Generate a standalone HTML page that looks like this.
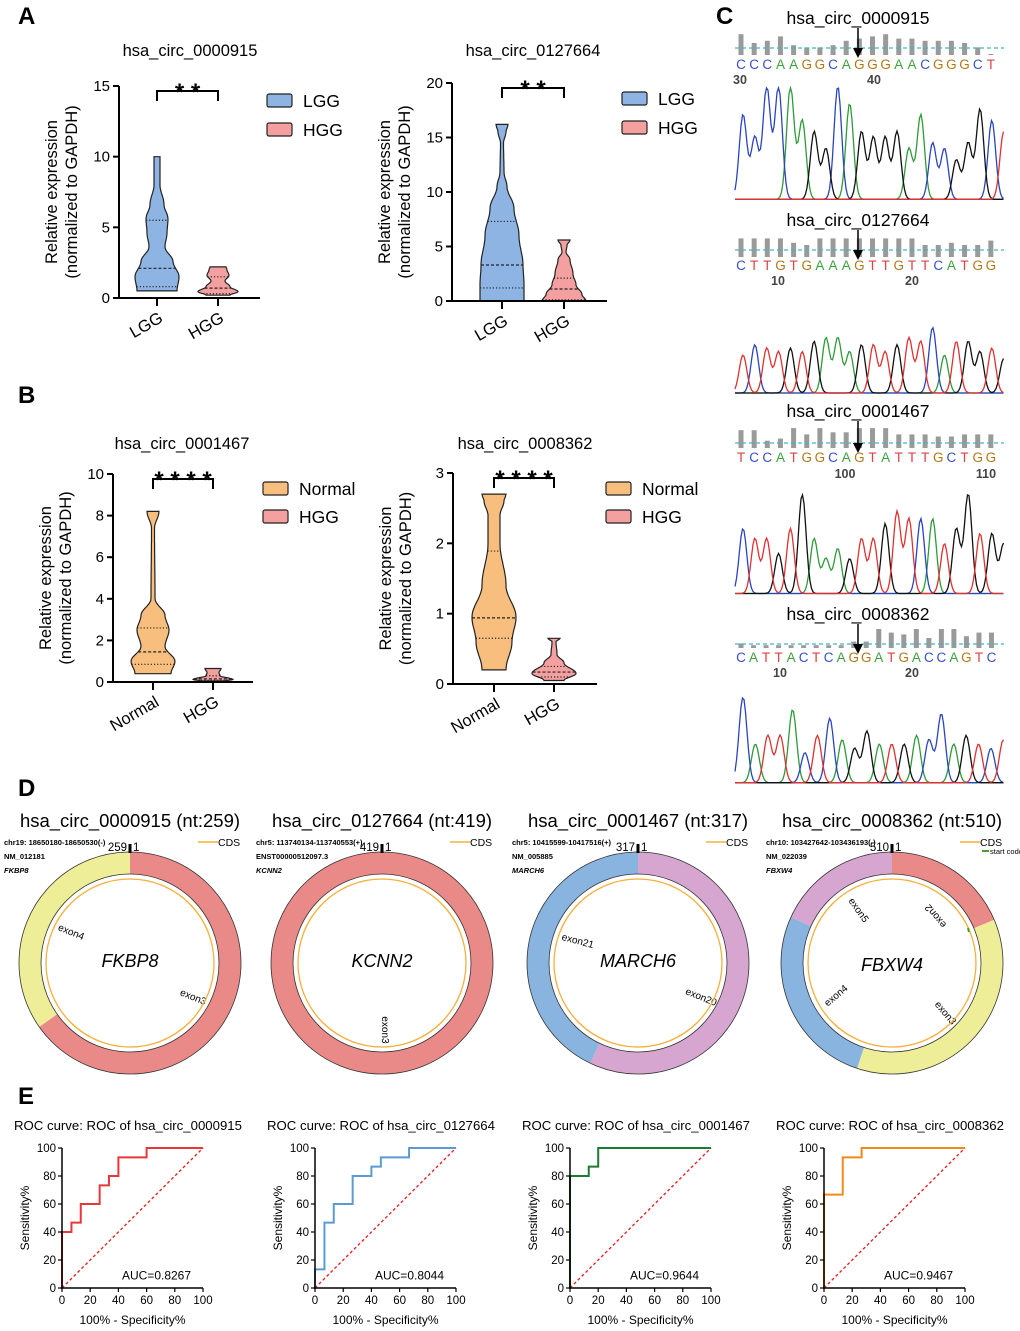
<!DOCTYPE html>
<html><head><meta charset="utf-8"><style>
html,body{margin:0;padding:0;background:#fff}
svg{display:block}
text{font-family:"Liberation Sans",Arial,sans-serif}
</style></head><body>
<svg id="fig" xmlns="http://www.w3.org/2000/svg" width="1020" height="1331" viewBox="0 0 1020 1331">
<g font-weight="bold" font-size="24" fill="#000">
<text x="18" y="24">A</text>
<text x="18" y="403">B</text>
<text x="716" y="24">C</text>
<text x="18" y="796">D</text>
<text x="18" y="1104">E</text>
</g>
<g id="layer"></g>
</svg>
<script>
// ---------- DATA: violins ----------
const violinTitles = ["hsa_circ_0000915","hsa_circ_0127664","hsa_circ_0001467","hsa_circ_0008362"];
const violinCats = [["LGG","HGG"],["LGG","HGG"],["Normal","HGG"],["Normal","HGG"]];
const violinStars = ["**","**","****","****"];
const violinTicks = [[0,5,10,15],[0,5,10,15,20],[0,2,4,6,8,10],[0,1,2,3]];
const vA1a = [[0.5,20],[1.5,22],[2.6,16],[3.6,8],[4.6,10],[5.6,11],[6.6,7],[8,3],[9.5,3],[10,3]];
const vA1b = [[0.2,12],[0.45,20],[0.8,12],[1.2,7],[1.6,11],[2.0,9],[2.2,8]];
const vA2a = [[0,22],[1.5,22],[3.3,21],[6,17],[8.5,12],[10.5,5],[11.8,2],[14.5,1.5],[15.5,4],[16.2,6]];
const vA2b = [[0,22],[0.6,18],[1.5,12],[2.5,9],[3.8,6],[4.5,2],[5.1,3],[5.6,6]];
const vB1a = [[0.4,18],[1.0,22],[1.7,12],[2.5,16],[3.2,12],[4.0,2],[7.4,1.5],[8.2,6]];
const vB1b = [[0.05,12],[0.12,20],[0.3,7],[0.45,6],[0.65,8]];
const vB2a = [[0.2,12],[0.6,18],[0.95,22],[1.4,12],[2.0,6],[2.4,6],[2.6,10],[2.7,12]];
const vB2b = [[0.05,10],[0.15,22],[0.3,10],[0.42,3],[0.6,2],[0.65,6]];
const violinData = [[vA1a,vA1b],[vA2a,vA2b],[vB1a,vB1b],[vB2a,vB2b]];
const violinQuart = [[[0.8,2.1,5.5],[0.3,0.7,1.5]],[[1.2,3.3,7.3],[0.1,1.1,2.1]],[[0.85,1.45,2.6],[0.08,0.15,0.3]],[[0.65,0.94,1.89],[0.1,0.17,0.25]]];
// ---------- DATA: ROC ----------
const rocTitles = ["ROC curve: ROC of hsa_circ_0000915","ROC curve: ROC of hsa_circ_0127664","ROC curve: ROC of hsa_circ_0001467","ROC curve: ROC of hsa_circ_0008362"];
const rocAUC = ["AUC=0.8267","AUC=0.8044","AUC=0.9644","AUC=0.9467"];
const rocFpr1 = [0,0,6.7,6.7,13.3,13.3,26.7,26.7,33.3,33.3,40,40,60,60,100];
const rocTpr1 = [0,40,40,46.7,46.7,60,60,73.3,73.3,80,80,93.3,93.3,100,100];
const rocFpr2 = [0,0,6.7,6.7,13.3,13.3,26.7,26.7,40,40,46.7,46.7,66.7,66.7,100];
const rocTpr2 = [0,13.3,13.3,46.7,46.7,60,60,80,80,86.7,86.7,93.3,93.3,100,100];
const rocFpr3 = [0,0,13.3,13.3,20,20,100];
const rocTpr3 = [0,80,80,86.7,86.7,100,100];
const rocFpr4 = [0,0,13.3,13.3,26.7,26.7,100];
const rocTpr4 = [0,66.7,66.7,93.3,93.3,100,100];
const rocTicks = [0,20,40,60,80,100];
// ---------- DATA: circRNA ----------
const circTitles = ["hsa_circ_0000915 (nt:259)","hsa_circ_0127664  (nt:419)","hsa_circ_0001467 (nt:317)","hsa_circ_0008362  (nt:510)"];
const circInfo = [["chr19: 18650180-18650530(-)","NM_012181","FKBP8"],["chr5: 113740134-113740553(+)","ENST00000512097.3","KCNN2"],["chr5: 10415599-10417516(+)","NM_005885","MARCH6"],["chr10: 103427642-103436193(-)","NM_022039","FBXW4"]];
const circLen = [259,419,317,510];
const circExonNames = [["exon3","exon4"],["exon3"],["exon20","exon21"],["exon2","exon3","exon4","exon5"]];
const circExonLen = [[169,90],[419],[181,136],[95,186,136,93]];
// ---------- DATA: chromatograms ----------
const seqTitles = ["hsa_circ_0000915","hsa_circ_0127664","hsa_circ_0001467","hsa_circ_0008362"];
const seqLetters = ["CCCAAGGCAGGGAACGGGCT","CTTGTGAAAGTTGTTCATGG","TCCATGGCAGTATTTGCTGG","CATTACTCAGGATGACCAGTC"];
const seqNums = [["30","40"],["10","20"],["100","110"],["10","20"]];
const seqQual = [[0.9,0.5,0.6,0.8,0.4,0.3,0.3,0.4,0.6,0.7,0.8,0.9,0.7,0.7,0.6,0.6,0.6,0.5,0.3,0],[0.8,0.8,0.8,0.8,0.6,0.5,0.8,0.8,0.8,0.8,0.8,0.8,0.8,0.8,0.5,0.5,0.6,0.5,0.5,0.7],[0.8,0.8,0.3,0.4,0.9,0.6,0.9,0.7,0.7,0.9,0.9,0.9,0.6,0.6,0.6,0.5,0.5,0.6,0.6,0.6],[0.2,0.1,0.1,0.1,0.1,0.1,0.1,0.1,0.1,0.3,0.3,1,0.8,0.7,1,0.5,1,1,0.6,0.8,0.8]];
const trBases = ["CCCCAAGGCAGGGGAACCGGGCT","TCTTGTGAAAGTTGTTCATGGTG","CTTGTGAAAGTTGTTCATGGTGG","CATTACTCAGGATGACCAGTCT"];
const trHeights = [[0.75,0.55,1,1,1,0.7,0.6,0.45,1,0.85,0.6,0.55,0.55,0.6,0.45,0.75,0.5,0.45,0.35,0.5,0.8,0.7,0.6],[0.55,0.7,0.65,0.6,0.65,0.6,0.75,0.8,0.8,0.6,0.7,0.7,0.6,0.7,0.8,0.75,0.95,0.55,0.75,0.75,0.6,0.65,0.5],[0.65,0.55,0.55,0.4,0.65,1,0.55,0.35,0.45,0.35,0.55,0.55,0.7,0.82,0.75,0.75,0.75,0.5,0.65,1,0.6,0.6,0.5],[1,0.45,0.55,0.55,0.85,0.35,0.55,0.75,0.5,0.4,0.6,0.45,0.45,0.45,0.55,0.5,0.8,0.45,0.55,0.45,0.4,0.5]];

const NS="http://www.w3.org/2000/svg";
const layer=document.getElementById('layer');
function mk(tag,attrs,parent){const e=document.createElementNS(NS,tag);for(const k in attrs)e.setAttribute(k,attrs[k]);(parent||layer).appendChild(e);return e;}
function txt(s,attrs,parent){const e=mk('text',attrs,parent);e.textContent=s;return e;}

// ---------- Violin panels ----------
const vLayout=[
 {ax:119,y0:298,yTop:86,max:15,xEnd:260,cx:[157,218],title:[190,56],lx:267,ly:[94,123],colors:["#8DB4E2","#F4A0A0"]},
 {ax:452,y0:301,yTop:83,max:20,xEnd:607,cx:[502,564],title:[533,56],lx:622,ly:[92,121],colors:["#8DB4E2","#F4A0A0"]},
 {ax:113,y0:682,yTop:474,max:10,xEnd:253,cx:[153,213],title:[182,449],lx:263,ly:[482,510],colors:["#F8BE7E","#F4A0A0"]},
 {ax:453,y0:684,yTop:473,max:3,xEnd:597,cx:[494,554],title:[525,449],lx:606,ly:[482,510],colors:["#F8BE7E","#F4A0A0"]}];
function halfW(knots,v){if(v<=knots[0][0])return knots[0][1];for(let i=1;i<knots.length;i++){if(v<=knots[i][0]){const a=knots[i-1],b=knots[i];const t=(v-a[0])/(b[0]-a[0]);const c=(1-Math.cos(t*Math.PI))/2;return a[1]+(b[1]-a[1])*c;}}return knots[knots.length-1][1];}
violinData.forEach((pair,p)=>{
 const L=vLayout[p];
 const g=mk('g',{});
 
 
 const ys=v=>L.y0-(v/L.max)*(L.y0-L.yTop);
 const t=txt(violinTitles[p],{x:L.title[0],y:L.title[1],'font-size':16.5,'text-anchor':'middle'},g);
 
 
 pair.forEach((knots,i)=>{
  const cx=L.cx[i];const lo=knots[0][0],hi=knots[knots.length-1][0];
  const left=[],right=[];
  for(let s=0;s<=60;s++){const v=lo+(hi-lo)*s/60;const w=halfW(knots,v);left.push([cx-w,ys(v)]);right.push([cx+w,ys(v)]);}
  const pts=right.concat(left.reverse()).map(q=>q[0].toFixed(1)+','+q[1].toFixed(1)).join(' ');
  const vp=mk('polygon',{points:pts,fill:L.colors[i],stroke:'#222','stroke-width':1.2},g);
  
  
  violinQuart[p][i].forEach((q,k)=>{const w=halfW(knots,q);const ql=mk('line',{x1:cx-w,x2:cx+w,y1:ys(q),y2:ys(q),stroke:'#222','stroke-width':1.2,'stroke-dasharray':k==1?'3,2':'1.2,2'},g);
   
   });
 });
 const ya=mk('line',{x1:L.ax,x2:L.ax,y1:L.yTop,y2:L.y0+1,stroke:'#000','stroke-width':2},g);
 
 
 const xa=mk('line',{x1:L.ax-1,x2:L.xEnd,y1:L.y0,y2:L.y0,stroke:'#000','stroke-width':2},g);
 
 
 violinTicks[p].forEach(v=>{mk('line',{x1:L.ax-6,x2:L.ax,y1:ys(v),y2:ys(v),stroke:'#000','stroke-width':2},g);
  const tl=txt(String(v),{x:L.ax-9,y:ys(v)+5,'font-size':15,'text-anchor':'end'},g);
  
  });
 violinCats[p].forEach((c,i)=>{mk('line',{x1:L.cx[i],x2:L.cx[i],y1:L.y0,y2:L.y0+8,stroke:'#000','stroke-width':2},g);
  const xl=txt(c,{x:L.cx[i]+7,y:L.y0+23,'font-size':16.5,'text-anchor':'end',transform:`rotate(-30 ${L.cx[i]+7} ${L.y0+23})`},g);
  
  });
 const yt=txt('',{transform:`translate(${L.ax-62},${(L.y0+L.yTop)/2}) rotate(-90)`,'font-size':16.5,'text-anchor':'middle'},g);
 
 
 const s1=mk('tspan',{x:0,y:0},yt);s1.textContent='Relative expression';
 const s2=mk('tspan',{x:0,y:20},yt);s2.textContent='(normalized to GAPDH)';
 const by=L.yTop+5;
 const br=mk('polyline',{points:`${L.cx[0]},${by+10} ${L.cx[0]},${by} ${L.cx[1]},${by} ${L.cx[1]},${by+10}`,fill:'none',stroke:'#000','stroke-width':2},g);
 
 
 const st=txt(violinStars[p].split('').join(' '),{x:(L.cx[0]+L.cx[1])/2,y:by+9,'font-size':24,'text-anchor':'middle','font-weight':'bold'},g);
 
 
 violinCats[p].forEach((c,i)=>{const r=mk('rect',{x:L.lx,y:L.ly[i],width:25,height:13,fill:L.colors[i],stroke:'#222','stroke-width':1.2,rx:2},g);
  
  
  const lt=txt(c,{x:L.lx+36,y:L.ly[i]+13,'font-size':17.5},g);
  
  });
});

// ---------- Chromatograms ----------
const baseColor={A:'#2E9A3A',C:'#2A44C0',G:'#111111',T:'#E03030'};
const letterColor={A:'#3BA23B',C:'#3850C8',G:'#B07818',T:'#E04040'};
const cLayout=[{title:18,bar:[33,55],line:48,let:69,num:84,numX:[740,874],tr:[88,201]},
 {title:220,bar:[235,257],line:250,let:270,num:285,numX:[778,912],tr:[325,394]},
 {title:411,bar:[427,448],line:443,let:462,num:478,numX:[845,986],tr:[495,595]},
 {title:614,bar:[630,648],line:644,let:662,num:677,numX:[780,912],tr:[698,784]}];
const xL=735,xR=1004;
seqLetters.forEach((seq,b)=>{
 const L=cLayout[b];
 const g=mk('g',{});
 
 
 const tt=txt(seqTitles[b],{x:858,y:L.title+6,'font-size':17.5,'text-anchor':'middle'},g);
 
 
 const step=(xR-xL-6)/seq.length;
 seqQual[b].forEach((q,i)=>{const x=xL+6+step*i;const h=(L.bar[1]-L.bar[0])*q+1;
  const qb=mk('rect',{x:x-2.5,y:L.bar[1]-h,width:5,height:h,fill:'#9a9a9a'},g);
  
  });
 mk('line',{x1:xL,x2:xR,y1:L.line,y2:L.line,stroke:'#3BB8C4','stroke-width':1.3,'stroke-dasharray':'4,3'},g);
 seq.split('').forEach((ch,i)=>{const lt=txt(ch,{x:xL+6+step*i,y:L.let,'font-size':13.5,'text-anchor':'middle',fill:letterColor[ch]},g);
  
  });
 seqNums[b].forEach((n,i)=>{const nt=txt(n,{x:L.numX[i],y:L.num,'font-size':12.5,'font-weight':'bold','text-anchor':'middle',fill:'#444'},g);
  
  });
 const ax=858;
 mk('line',{x1:ax,x2:ax,y1:L.title+10,y2:L.line+6,stroke:'#000','stroke-width':1.5},g);
 const ar=mk('polygon',{points:`${ax-5},${L.line} ${ax+5},${L.line} ${ax},${L.line+10}`,fill:'#000'},g);
 
 
 const bases=trBases[b],hs=trHeights[b];const tstep=(xR-xL)/(bases.length-0.3);
 const H=L.tr[1]-L.tr[0];const sig=tstep*0.32;
 ['A','C','G','T'].forEach(B=>{let d='';
  for(let x=xL;x<=xR;x+=1.5){let y=0.015;for(let i=0;i<bases.length;i++){if(bases[i]!==B)continue;const px=xL+8+tstep*i;y+=Math.min(1,hs[i])*Math.exp(-((x-px)*(x-px))/(2*sig*sig));}
   d+=(d?'L':'M')+x.toFixed(1)+','+(L.tr[1]-Math.min(1,y)*H).toFixed(1);}
  const tp=mk('path',{d:d,fill:'none',stroke:baseColor[B],'stroke-width':1.3},g);
  
  });
});

// ---------- circRNA diagrams ----------
const circCx=[130,382,638,892],circCy=963,Ro=111,Ri=89;
const segColors=[["#E98A89","#EEEE99"],["#E98A89"],["#D6A6D0","#8AB4E0"],["#E98A89","#EEEE99","#8AB4E0","#D6A6D0"]];
const exonLblPos=[[[192,1000,22],[70,935,22]],[[382,1030,90]],[[700,1000,22],[577,944,15]],[[938,914,230],[943,1015,50],[838,998,-40],[856,912,55]]];
function polar(cx,cy,r,a){const t=(a-90)*Math.PI/180;return [cx+r*Math.cos(t),cy+r*Math.sin(t)];}
circLen.forEach((len,c)=>{
 const cx=circCx[c];
 const g=mk('g',{});
 
 
 const ct=txt(circTitles[c],{x:cx,y:827,'font-size':18.5,'text-anchor':'middle'},g);
 
 
 circInfo[c].forEach((s,i)=>{const it=txt(s,{x:cx-126,y:845+i*14,'font-size':7.5,'font-weight':'bold','font-style':i==2?'italic':'normal'},g);
  
  });
 let acc=0;
 circExonLen[c].forEach((el,i)=>{const a0=acc/len*360,a1=(acc+el)/len*360;acc+=el;
  let sp;
  if(a1-a0>=359.9){sp=mk('circle',{cx:cx,cy:circCy,r:(Ro+Ri)/2,fill:'none',stroke:segColors[c][i],'stroke-width':Ro-Ri},g);}
  else{const lg=(a1-a0)>180?1:0;const p1=polar(cx,circCy,Ro,a0),p2=polar(cx,circCy,Ro,a1),p3=polar(cx,circCy,Ri,a1),p4=polar(cx,circCy,Ri,a0);
   const path=`M${p1[0]},${p1[1]}A${Ro},${Ro} 0 ${lg} 1 ${p2[0]},${p2[1]}L${p3[0]},${p3[1]}A${Ri},${Ri} 0 ${lg} 0 ${p4[0]},${p4[1]}Z`;
   sp=mk('path',{d:path,fill:segColors[c][i]},g);}
  
  
  const lp=exonLblPos[c][i];
  const el2=txt(circExonNames[c][i],{x:lp[0],y:lp[1],'font-size':10,'text-anchor':'middle',transform:`rotate(${lp[2]} ${lp[0]} ${lp[1]})`},g);
  
  
 });
 mk('circle',{cx:cx,cy:circCy,r:Ro,fill:'none',stroke:'#333','stroke-width':0.8},g);
 mk('circle',{cx:cx,cy:circCy,r:Ri,fill:'none',stroke:'#333','stroke-width':0.8},g);
 const cds=mk('circle',{cx:cx,cy:circCy,r:84,fill:'none',stroke:'#F5B03C','stroke-width':1.3},g);
 
 
 mk('rect',{x:cx-1.5,y:circCy-Ro-8,width:3,height:9,fill:'#000'},g);
 txt(String(len),{x:cx-3,y:circCy-Ro-1,'font-size':11.5,'text-anchor':'end'},g);
 txt('1',{x:cx+3,y:circCy-Ro-1,'font-size':11.5},g);
 const gn=txt(circInfo[c][2],{x:cx,y:circCy+(c==3?8:4),'font-size':18,'font-style':'italic','text-anchor':'middle'},g);
 
 
 mk('line',{x1:cx+68,x2:cx+88,y1:842,y2:842,stroke:'#F5B03C','stroke-width':1.5},g);
 const cl=txt('CDS',{x:cx+88,y:846,'font-size':10.5},g);
 
 
 if(c==3){mk('line',{x1:cx+90,x2:cx+97,y1:851,y2:851,stroke:'#4AA02C','stroke-width':2},g);
  const sc=txt('start codon',{x:cx+98,y:854,'font-size':7.5},g);
  
  
  mk('line',{x1:cx+76,x2:cx+77,y1:928,y2:932,stroke:'#4AA02C','stroke-width':2},g);}
});

// ---------- ROC panels ----------
const rocFpr=[rocFpr1,rocFpr2,rocFpr3,rocFpr4],rocTpr=[rocTpr1,rocTpr2,rocTpr3,rocTpr4];
const rocColors=["#E8373B","#5B9BD5","#1E7B34","#F08A1C"];
const rocX0=[62,315,570,824],rocW=141,rocY0=1288,rocH=140;
rocFpr.forEach((fpr,r)=>{
 const x0=rocX0[r];const xs=v=>x0+v/100*rocW,ys=v=>rocY0-v/100*rocH;
 const g=mk('g',{});
 
 
 const tt=txt(rocTitles[r],{x:x0-48,y:1130,'font-size':13.2},g);
 
 
 const dg=mk('line',{x1:xs(0),y1:ys(0),x2:xs(100),y2:ys(100),stroke:'#E82020','stroke-width':1.3,'stroke-dasharray':'3,2.5'},g);
 
 
 const pts=fpr.map((f,i)=>xs(f)+','+ys(rocTpr[r][i])).join(' ');
 const rl=mk('polyline',{points:pts,fill:'none',stroke:rocColors[r],'stroke-width':2},g);
 
 
 mk('line',{x1:x0,x2:x0,y1:ys(100),y2:rocY0+1,stroke:'#000','stroke-width':1.5},g);
 mk('line',{x1:x0-1,x2:xs(100),y1:rocY0,y2:rocY0,stroke:'#000','stroke-width':1.5},g);
 rocTicks.forEach(v=>{mk('line',{x1:x0-4,x2:x0,y1:ys(v),y2:ys(v),stroke:'#000','stroke-width':1.2},g);
  const yl=txt(String(v),{x:x0-6,y:ys(v)+4,'font-size':11.5,'text-anchor':'end'},g);
  
  
  mk('line',{x1:xs(v),x2:xs(v),y1:rocY0,y2:rocY0+4,stroke:'#000','stroke-width':1.2},g);
  const xl=txt(String(v),{x:xs(v),y:rocY0+16,'font-size':11.5,'text-anchor':'middle'},g);
  
  });
 const xt=txt('100% - Specificity%',{x:xs(50),y:1324,'font-size':12,'text-anchor':'middle'},g);
 
 
 const yt=txt('Sensitivity%',{transform:`translate(${x0-33},${ys(50)}) rotate(-90)`,'font-size':12,'text-anchor':'middle'},g);
 
 
 const au=txt(rocAUC[r],{x:xs(50)+24,y:ys(6),'font-size':12,'text-anchor':'middle'},g);
 
 
});
</script>
</body></html>
